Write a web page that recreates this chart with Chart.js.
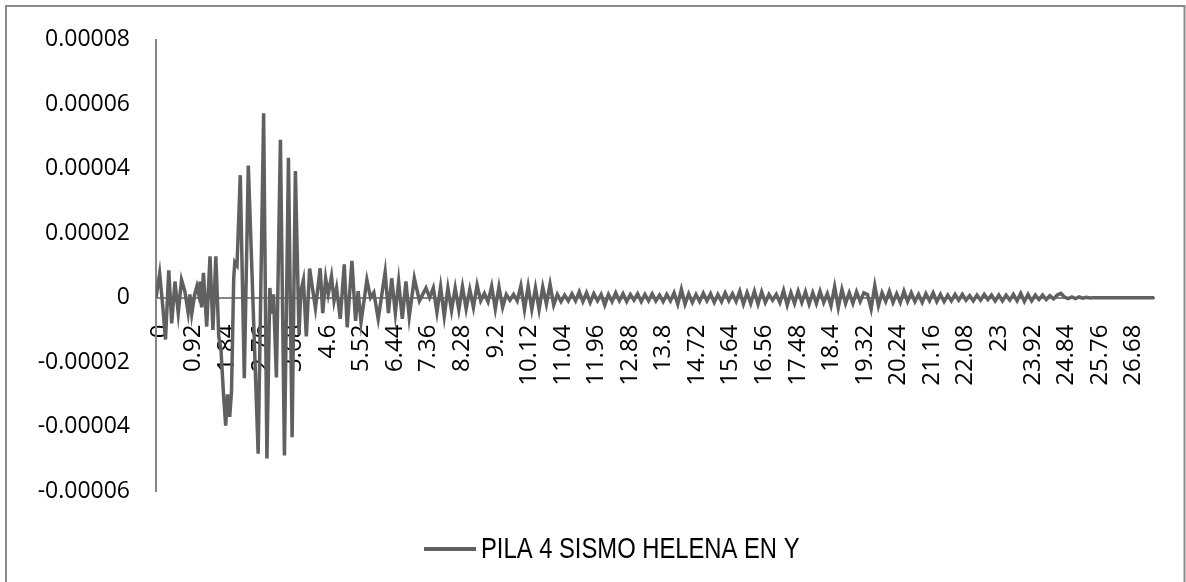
<!DOCTYPE html>
<html>
<head>
<meta charset="utf-8">
<script src="https://cdn.jsdelivr.net/npm/chart.js@4.4.1/dist/chart.umd.min.js"></script>
<style>
  html, body { margin: 0; padding: 0; background: #fff; }
</style>
</head>
<body>
<canvas id="chart" width="1186" height="582"></canvas>
<script>
// x tick labels (seconds), every 46th sample of the record
const xTickLabels = ["0", "0.92", "1.84", "2.76", "3.68", "4.6", "5.52", "6.44", "7.36", "8.28",
    "9.2", "10.12", "11.04", "11.96", "12.88", "13.8", "14.72", "15.64", "16.56", "17.48",
    "18.4", "19.32", "20.24", "21.16", "22.08", "23", "23.92", "24.84", "25.76", "26.68"];

const yTicks = [-0.00006, -0.00004, -0.00002, 0, 0.00002, 0.00004, 0.00006, 0.00008];
const yTickLabels = ["-0.00006", "-0.00004", "-0.00002", "0", "0.00002", "0.00004", "0.00006", "0.00008"];

const seriesName = "PILA 4 SISMO HELENA EN Y";
const recordEnd = 27.36;

// strong motion part: times (s) and values (x 1e-5) of the peaks
const peakTimes = [0, 0.1, 0.18, 0.26, 0.35, 0.43, 0.52, 0.61, 0.7, 0.79,
    0.88, 0.93, 0.98, 1.06, 1.12, 1.17, 1.21, 1.25, 1.3, 1.39,
    1.48, 1.56, 1.64, 1.72, 1.78, 1.85, 1.91, 1.96, 2.02, 2.07,
    2.13, 2.16, 2.22, 2.31, 2.42, 2.53, 2.8, 2.95, 3.04, 3.12,
    3.17, 3.22, 3.3, 3.41, 3.52, 3.63, 3.73, 3.82, 3.92, 3.97,
    4.04, 4.12, 4.21, 4.37, 4.5, 4.57, 4.65, 4.72, 4.81, 4.88,
    4.95, 5.05, 5.16, 5.24, 5.37, 5.47, 5.54, 5.62, 5.78, 5.88,
    5.97, 6.09, 6.28, 6.37, 6.46, 6.56, 6.65, 6.75, 6.85, 6.94,
    7.08, 7.22, 7.4, 7.5];
const peakValues = [0, 0.75, -0.2, -1.3, 0.85, -0.8, 0.5, -0.48, 0.55, 0.2,
    -0.45, 0.1, -0.5, 0.1, 0.35, 0.1, 0.5, -0.3, 0.77, -0.9,
    1.28, -1.0, 1.28, -1.2, -1.6, -3.0, -3.97, -3.0, -3.7, -2.9,
    0.6, 1.1, 1.0, 3.8, -2.5, 4.1, -4.84, 5.72, -4.99, 0.3,
    -0.5, 0.1, -2.48, 4.9, -4.9, 4.34, -4.33, 3.93, -1.15, 0.2,
    0.55, -1.2, 0.9, -0.33, 0.91, -0.48, 0.6, 0.1, 0.66, -0.1,
    0.3, -0.66, 1.03, -0.92, 1.14, -0.72, 0.2, -0.76, 0.55, 0.0,
    0.16, -0.66, 0.79, -0.48, 0.6, -0.48, 0.5, -0.66, 0.5, -0.6,
    0.6, -0.1, 0.3, 0.0];

// rest of the record, one reading every 0.1 s from 7.6 s (x 1e-5), ten per line
const tailStart = 7.6;
const tailStep = 0.1;
const tailValues = [
    0.3, -0.45, 0.34, -0.58, 0.3, -0.4, 0.3, -0.38, 0.34, -0.35,
    0.25, -0.3, 0.39, -0.1, 0.13, -0.13, 0.35, -0.35, 0.33, -0.3,
    0.1, -0.08, 0.1, -0.1, 0.37, -0.37, 0.35, -0.36, 0.3, -0.37,
    0.33, -0.2, 0.41, -0.23, 0.1, -0.12, 0.08, -0.1, 0.12, -0.1,
    0.18, -0.12, 0.15, -0.15, 0.12, -0.1, 0.1, -0.23, 0.1, -0.12,
    0.15, -0.1, 0.12, -0.12, 0.1, -0.08, 0.12, -0.12, 0.1, -0.1,
    0.12, -0.1, 0.08, -0.12, 0.1, -0.1, 0.15, -0.2, 0.26, -0.2,
    0.12, -0.15, 0.1, -0.12, 0.14, -0.1, 0.12, -0.15, 0.1, -0.12,
    0.15, -0.1, 0.12, -0.12, 0.2, -0.2, 0.15, -0.18, 0.2, -0.2,
    0.18, -0.15, 0.1, -0.08, 0.1, -0.15, 0.22, -0.23, 0.15, -0.18,
    0.2, -0.15, 0.18, -0.2, 0.15, -0.18, 0.2, -0.15, 0.12, -0.25,
    0.34, -0.31, 0.25, -0.18, 0.15, -0.18, 0.18, -0.12, 0.15, 0.1,
    -0.35, 0.37, -0.25, 0.15, -0.12, 0.2, -0.15, 0.12, -0.15, 0.2,
    -0.12, 0.15, -0.12, 0.1, -0.15, 0.12, -0.1, 0.15, -0.12, 0.1,
    -0.12, 0.08, -0.1, 0.1, -0.08, 0.1, -0.08, 0.06, -0.1, 0.08,
    -0.08, 0.1, -0.06, 0.08, -0.1, 0.08, -0.1, 0.08, -0.08, 0.1,
    -0.1, 0.13, -0.12, 0.1, -0.1, 0.08, -0.06, 0.08, -0.06, 0.06,
    -0.04, 0.08, 0.13, 0.02, -0.03, 0.02, -0.03, 0.02, -0.02, 0.01,
    -0.01, 0];

const points = [];
peakTimes.forEach((t, i) => points.push({ x: t, y: peakValues[i] * 1e-5 }));
tailValues.forEach((v, i) => points.push({ x: tailStart + i * tailStep, y: v * 1e-5 }));
points.push({ x: recordEnd, y: 0 });

const lineColor = "#606060";
const axisColor = "#868686";
const axisFont = { family: "'Open Sans', sans-serif", size: 23 };
const xLabelFont = { family: "'Open Sans', sans-serif", size: 24 };

// outer frame and the Excel style legend under the plot
const framePlugin = {
    id: "frame",
    afterDraw(chart) {
        const ctx = chart.ctx;
        ctx.save();
        ctx.strokeStyle = "#898989";
        ctx.lineWidth = 2;
        ctx.strokeRect(6, 6, 1178.5, 590);

        ctx.strokeStyle = lineColor;
        ctx.lineWidth = 4;
        ctx.beginPath();
        ctx.moveTo(424, 549);
        ctx.lineTo(476, 549);
        ctx.stroke();

        // narrow face like the original legend text
        ctx.fillStyle = "#000";
        ctx.font = "29px 'Liberation Sans', Arial, sans-serif";
        ctx.textBaseline = "middle";
        ctx.translate(481, 550);
        ctx.scale(0.82, 1);
        ctx.fillText(seriesName, 0, 0);
        ctx.restore();
    }
};

new Chart(document.getElementById("chart"), {
    type: "line",
    data: {
        datasets: [{
            label: seriesName,
            data: points,
            borderColor: lineColor,
            backgroundColor: lineColor,
            borderWidth: 3.5,
            pointRadius: 0,
            tension: 0,
            fill: false
        }]
    },
    options: {
        responsive: false,
        animation: false,
        devicePixelRatio: 1,
        layout: { padding: { left: 0, right: 30, top: 37, bottom: 91 } },
        plugins: {
            tooltip: { enabled: false },
            legend: { display: false }
        },
        scales: {
            x: {
                type: "linear",
                position: { y: 0 },
                min: 0,
                max: recordEnd,
                afterBuildTicks: scale => {
                    scale.ticks = xTickLabels.map(l => ({ value: parseFloat(l) }));
                },
                grid: { display: false, drawTicks: false },
                border: { display: true, color: axisColor, width: 2 },
                ticks: {
                    autoSkip: false,
                    minRotation: 90,
                    maxRotation: 90,
                    padding: 27,
                    labelOffset: 4,
                    color: "#000",
                    font: xLabelFont,
                    callback: (value, index) => xTickLabels[index]
                }
            },
            y: {
                min: -0.00006,
                max: 0.00008,
                afterBuildTicks: scale => {
                    scale.ticks = yTicks.map(v => ({ value: v }));
                },
                afterFit: scale => { scale.width = 156; },
                grid: { display: false, drawTicks: false },
                border: { display: true, color: axisColor, width: 2 },
                ticks: {
                    padding: 26,
                    color: "#000",
                    font: axisFont,
                    callback: (value, index) => yTickLabels[index]
                }
            }
        }
    },
    plugins: [framePlugin]
});
</script>
</body>
</html>
